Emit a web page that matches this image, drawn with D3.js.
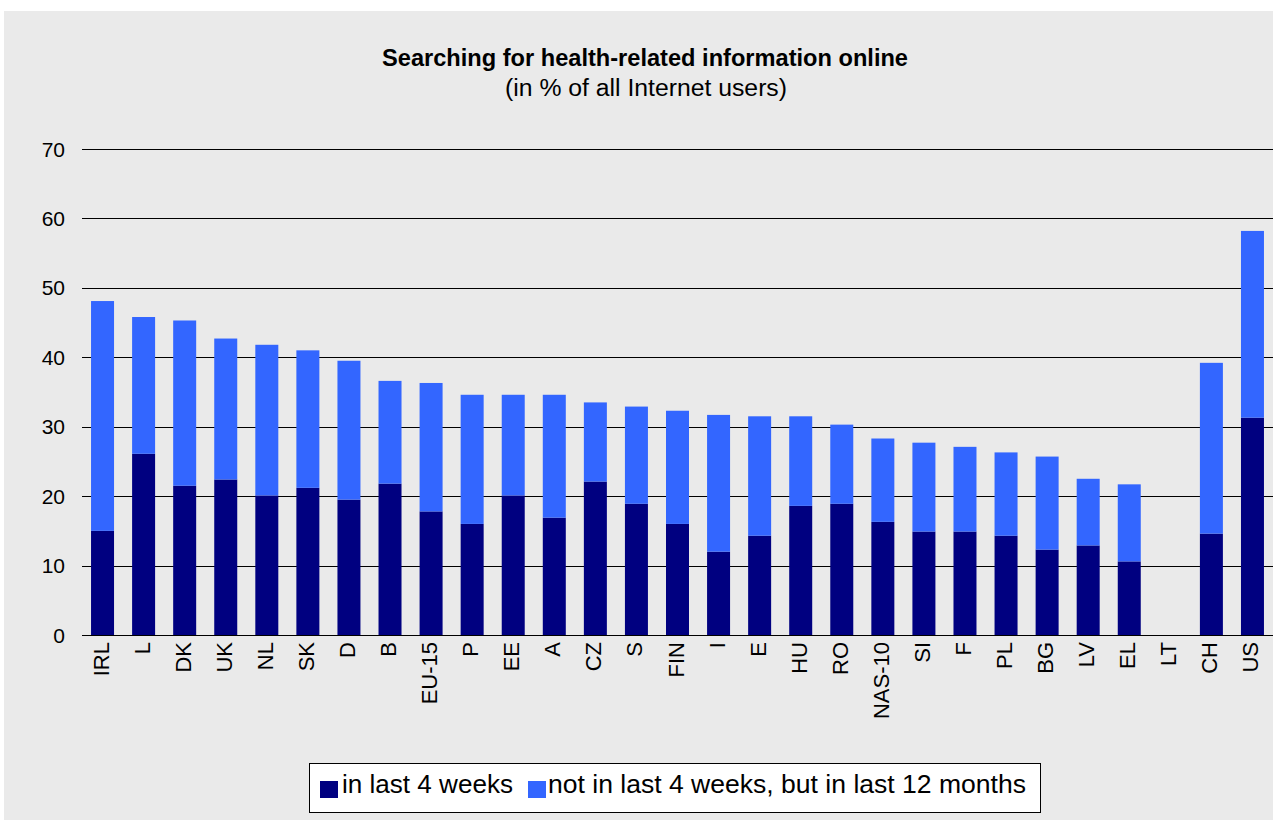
<!DOCTYPE html>
<html>
<head>
<meta charset="utf-8">
<script src="https://cdn.jsdelivr.net/npm/d3@7"></script>
<style>
  html, body { margin: 0; padding: 0; background: #ffffff; }
  svg { display: block; font-family: "Liberation Sans", Arial, sans-serif; }
</style>
</head>
<body>
<svg id="chart" width="1273" height="820"></svg>
<script>
// ---- data ----
const categories = ["IRL","L","DK","UK","NL","SK","D","B","EU-15","P","EE","A","CZ","S","FIN","I","E","HU","RO","NAS-10","SI","F","PL","BG","LV","EL","LT","CH","US"];
const last4Weeks = [15,26.1,21.5,22.4,20.1,21.2,19.5,21.8,17.8,16,20.1,16.9,22.1,18.9,16,12,14.3,18.6,18.9,16.3,14.9,14.9,14.3,12.3,12.9,10.6,null,14.6,31.3];
const notLast4But12Months = [33.1,19.7,23.8,20.3,21.7,19.8,20,14.8,18.5,18.6,14.5,17.7,11.4,14,16.3,19.7,17.2,12.9,11.4,12,12.8,12.2,12,13.4,9.6,11.1,null,24.6,26.9];
const yTicks = [0,10,20,30,40,50,60,70];
const seriesNames = ["in last 4 weeks","not in last 4 weeks, but in last 12 months"];
const colors = ["#000080","#3366FF"];
const titleText = "Searching for health-related information online";
const subtitleText = "(in % of all Internet users)";

// ---- layout ----
const svg = d3.select("#chart");
const W = 1273, H = 820;
const plot = {left: 82, right: 1273, top: 149, bottom: 635};

svg.append("rect").attr("x", 4).attr("y", 11).attr("width", W - 4).attr("height", H - 11).attr("fill", "#EAEAEA");

const x = d3.scaleBand().domain(categories).range([plot.left, plot.right]).paddingInner(0.44).paddingOuter(0.22);
const y = d3.scaleLinear().domain([0, 70]).range([plot.bottom, plot.top]);

// grid lines
svg.append("g").selectAll("line").data(yTicks).join("line")
  .attr("x1", plot.left).attr("x2", plot.right)
  .attr("y1", d => Math.round(y(d)) + 0.5).attr("y2", d => Math.round(y(d)) + 0.5)
  .attr("stroke", "#000").attr("stroke-width", 1.2);

// y labels
svg.append("g").selectAll("text").data(yTicks).join("text")
  .attr("x", 65).attr("y", d => y(d)).attr("dy", "0.36em")
  .attr("text-anchor", "end").attr("font-size", 21).attr("fill", "#000")
  .text(d => d);

// stacked data
const rows = categories.map((c, i) => ({cat: c, a: last4Weeks[i], b: notLast4But12Months[i]}));
const stacked = d3.stack().keys(["a","b"]).value((d, k) => d[k] == null ? 0 : d[k])(rows);

svg.append("g").selectAll("g").data(stacked).join("g")
  .attr("fill", (d, i) => colors[i])
  .selectAll("rect").data(d => d.filter(p => p.data.a != null)).join("rect")
  .attr("x", d => x(d.data.cat))
  .attr("width", x.bandwidth())
  .attr("y", d => y(d[1]))
  .attr("height", d => y(d[0]) - y(d[1]));

// x labels
svg.append("g").selectAll("text").data(categories).join("text")
  .attr("transform", d => `translate(${x(d) + x.bandwidth() / 2 + 6},642) rotate(-90)`)
  .attr("text-anchor", "end").attr("font-size", 22).attr("fill", "#000")
  .text(d => d);

// titles
svg.append("text").attr("x", 645).attr("y", 66).attr("text-anchor", "middle")
  .attr("font-size", 24).attr("font-weight", "bold").attr("fill", "#000")
  .attr("textLength", 526).attr("lengthAdjust", "spacingAndGlyphs")
  .text(titleText);
svg.append("text").attr("x", 646).attr("y", 96).attr("text-anchor", "middle")
  .attr("font-size", 23).attr("fill", "#000")
  .attr("textLength", 282).attr("lengthAdjust", "spacingAndGlyphs")
  .text(subtitleText);

// legend
const lg = svg.append("g");
lg.append("rect").attr("x", 309.5).attr("y", 763.5).attr("width", 731).attr("height", 49)
  .attr("fill", "#fff").attr("stroke", "#000").attr("stroke-width", 1);
const legendItems = [
  {sx: 320, tx: 342, tw: 171},
  {sx: 528, tx: 548, tw: 478}
];
legendItems.forEach((it, i) => {
  lg.append("rect").attr("x", it.sx).attr("y", 781).attr("width", 18).attr("height", 17).attr("fill", colors[i]);
  lg.append("text").attr("x", it.tx).attr("y", 793).attr("font-size", 25).attr("fill", "#000")
    .attr("textLength", it.tw).attr("lengthAdjust", "spacingAndGlyphs")
    .text(seriesNames[i]);
});
</script>
</body>
</html>
